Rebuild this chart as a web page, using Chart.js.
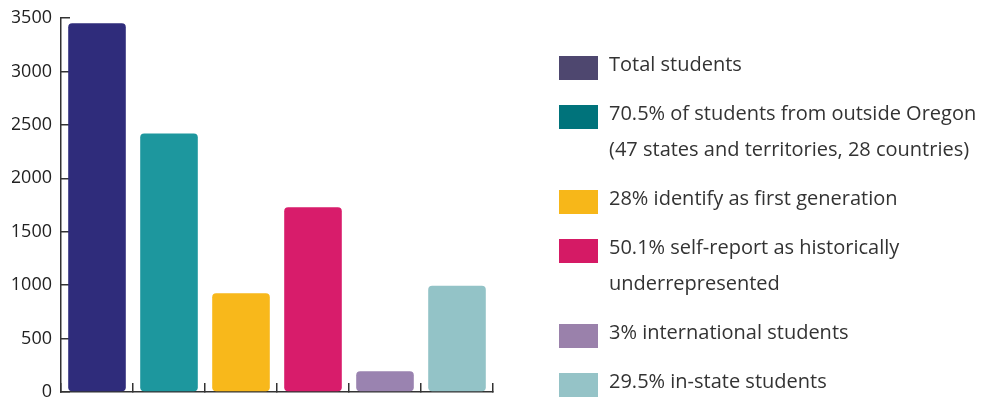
<!DOCTYPE html>
<html>
<head>
<meta charset="utf-8">
<script src="https://cdn.jsdelivr.net/npm/chart.js@4/dist/chart.umd.min.js"></script>
<style>
  html, body { margin: 0; padding: 0; background: #fff; }
  #wrap { width: 981px; height: 400px; }
</style>
</head>
<body>
<div id="wrap"><canvas id="chart"></canvas></div>
<script>
// data
const categories = [
  ['Total students'],
  ['70.5% of students from outside Oregon', '(47 states and territories, 28 countries)'],
  ['28% identify as first generation'],
  ['50.1% self-report as historically', 'underrepresented'],
  ['3% international students'],
  ['29.5% in-state students']
];
const studentCounts = [3450, 2420, 925, 1730, 195, 995];
const barColors = ['#2f2c7b', '#1d979e', '#f8b81b', '#d81c6b', '#9a83b0', '#93c3c7'];
const swatchColors = ['#4e476f', '#00737b', '#f7b719', '#d51a65', '#9a81ab', '#95c3c7'];
const yTicks = [0, 500, 1000, 1500, 2000, 2500, 3000, 3500];

const FONT = '"Open Sans", "Noto Sans", sans-serif';

// legend on the right, drawn on the canvas
const sideLegend = {
  id: 'sideLegend',
  afterDraw(chart) {
    const ctx = chart.ctx;
    ctx.save();
    ctx.font = '20px ' + FONT;
    ctx.textBaseline = 'middle';
    ctx.textAlign = 'left';
    let cy = 68;
    categories.forEach((lines, i) => {
      ctx.fillStyle = swatchColors[i];
      ctx.fillRect(559, cy - 12, 39, 24);
      ctx.fillStyle = '#333';
      lines.forEach((t, j) => ctx.fillText(t, 609, cy - 3 + j * 36));
      cy += 49 + 36 * (lines.length - 1);
    });
    ctx.restore();
  }
};

new Chart(document.getElementById('chart'), {
  type: 'bar',
  data: {
    labels: categories,
    datasets: [{
      data: studentCounts,
      backgroundColor: barColors,
      borderRadius: 4,
      borderSkipped: false,
      barPercentage: 0.8,
      categoryPercentage: 1
    }]
  },
  options: {
    responsive: true,
    maintainAspectRatio: false,
    animation: false,
    layout: { padding: { left: 12, top: 18, right: 488, bottom: 8 } },
    plugins: { legend: { display: false }, tooltip: { enabled: false } },
    scales: {
      x: {
        offset: true,
        afterFit: axis => { axis.height = 0; },
        grid: { offset: true, drawOnChartArea: false, tickLength: -9, color: '#333', lineWidth: 1.5 },
        border: { color: '#333', width: 1.5 },
        ticks: { display: false }
      },
      y: {
        min: 0,
        max: 3500,
        afterBuildTicks: axis => { axis.ticks = yTicks.map(v => ({ value: v })); },
        afterFit: axis => { axis.width = 49; axis.paddingTop = 0; axis.paddingBottom = 0; },
        grid: { drawOnChartArea: false, tickLength: -9, color: '#333', lineWidth: 1.5 },
        border: { color: '#333', width: 1.5 },
        ticks: { color: '#222', padding: 18, font: { family: FONT, size: 18 }, callback: v => String(v) }
      }
    }
  },
  plugins: [sideLegend]
});
</script>
</body>
</html>
